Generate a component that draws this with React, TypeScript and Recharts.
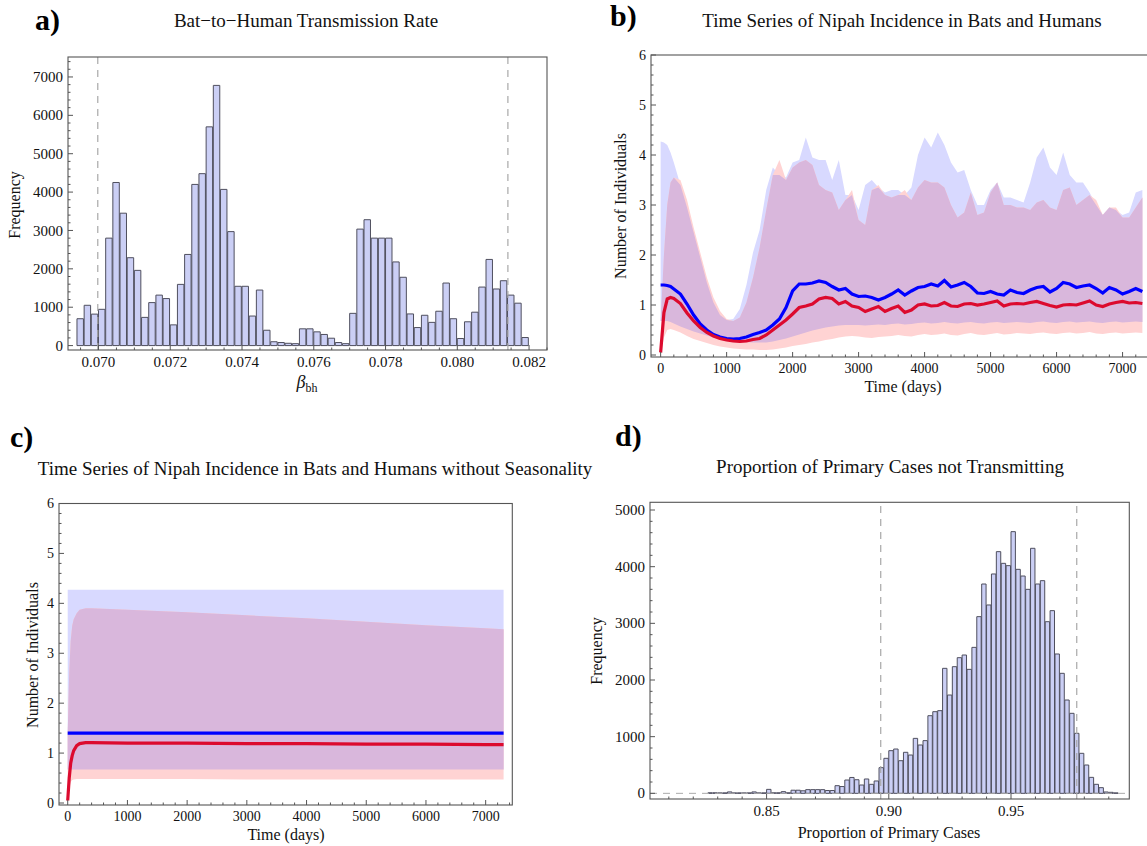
import React from "react";
import { ComposedChart, Bar, Area, Line, XAxis, YAxis, ReferenceLine } from "recharts";

const W = 1160;
const H = 846;
const SERIF = '"Liberation Serif", "Times New Roman", serif';

// a) bat-to-human transmission rate, bins of 0.0002 starting at 0.0694
const betaBinStart = 0.0694;
const betaBinWidth = 0.0002;
const betaCounts = [
  700, 1050, 820, 945, 2800, 4250, 3450, 2290, 1960, 735,
  1120, 1315, 1225, 540, 1595, 2375, 4200, 4480, 5700, 6780,
  4070, 2970, 1545, 1545, 770, 1447, 400, 100, 80, 60,
  50, 437, 437, 358, 290, 192, 80, 50, 840, 3035,
  3280, 2800, 2800, 2800, 2180, 1780, 825, 470, 790, 605,
  895, 1630, 700, 185, 620, 870, 1525, 2245, 1475, 1690,
  1315, 1105, 210,
];
const betaInterval = [0.06998, 0.08141];

// d) proportion of primary cases not transmitting, bins of 0.002 starting at 0.826
const propBinStart = 0.826;
const propBinWidth = 0.002;
const propCounts = [
  10, 10, 8, 8, 25, 8, 8, 8, 8, 25,
  8, 8, 70, 10, 10, 30, 10, 55, 55, 45,
  65, 65, 65, 65, 50, 50, 135, 120, 235, 280,
  240, 147, 253, 159, 218, 453, 618, 753, 782, 576,
  724, 676, 970, 853, 930, 1370, 1441, 1459, 2206, 1735,
  2235, 2394, 2441, 2188, 2576, 3118, 3694, 3324, 3871, 4265,
  4059, 4018, 4618, 3953, 3835, 3600, 4324, 3694, 3753, 3029,
  3224, 2459, 2118, 1647, 1412, 1059, 706, 500, 282, 159,
  100, 24, 18, 8,
];
const propInterval = [0.8967, 0.9769];

// b) seasonal time series (days)
const timeB = [
  0, 50, 100, 150, 200,
  300, 400, 500, 600, 700, 800, 900, 1000, 1100, 1200,
  1300, 1400, 1500, 1600, 1700, 1800, 1900, 2000, 2100, 2200,
  2300, 2400, 2500, 2600, 2700, 2800, 2900, 3000, 3100, 3200,
  3300, 3400, 3500, 3600, 3700, 3800, 3900, 4000, 4100, 4200,
  4300, 4400, 4500, 4600, 4700, 4800, 4900, 5000, 5100, 5200,
  5300, 5400, 5500, 5600, 5700, 5800, 5900, 6000, 6100, 6200,
  6300, 6400, 6500, 6600, 6700, 6800, 6900, 7000, 7100, 7200,
  7300,
];
const batsHiB = [
  4.27, 4.25, 4.2, 4.05, 3.85,
  3.4, 2.95, 2.45, 1.95, 1.45, 1.05, 0.8, 0.7, 0.72, 0.92,
  1.4, 2.05, 2.5, 3.3, 3.75, 3.6, 3.55, 3.85, 3.9, 4.35,
  3.95, 3.9, 3.9, 3.5, 3.9, 3.2, 3.2, 2.9, 3.4, 3.5,
  3.35, 3.25, 3.3, 3.3, 3.2, 3.35, 4.0, 4.35, 4.15, 4.45,
  4.2, 3.85, 3.65, 3.7, 3.3, 3.0, 3.0, 3.3, 3.45, 3.15,
  3.15, 3.1, 3.05, 3.45, 3.95, 4.15, 3.75, 3.6, 4.05, 3.6,
  3.45, 3.45, 3.25, 3.0, 2.8, 2.95, 2.9, 2.8, 2.85, 3.25,
  3.3,
];
const batsLoB = [
  0.68, 0.68, 0.68, 0.66, 0.63,
  0.57, 0.52, 0.47, 0.43, 0.39, 0.35, 0.32, 0.3, 0.28, 0.27,
  0.26, 0.25, 0.25, 0.25, 0.27, 0.3, 0.33, 0.37, 0.41, 0.45,
  0.49, 0.52, 0.55, 0.57, 0.59, 0.6, 0.6, 0.6, 0.59, 0.6,
  0.61, 0.6, 0.62, 0.63, 0.61, 0.62, 0.64, 0.65, 0.63, 0.64,
  0.66, 0.64, 0.63, 0.65, 0.66, 0.64, 0.63, 0.65, 0.66, 0.64,
  0.65, 0.66, 0.65, 0.64, 0.66, 0.67, 0.65, 0.64, 0.66, 0.67,
  0.65, 0.66, 0.67, 0.65, 0.64, 0.66, 0.67, 0.65, 0.66, 0.67,
  0.66,
];
const humansHiB = [
  0.1, 2.0, 3.0, 3.45, 3.55,
  3.5, 3.1, 2.55, 2.05, 1.55, 1.15, 0.88, 0.72, 0.68, 0.75,
  1.05, 1.55, 2.15, 2.9, 3.6, 3.9, 3.5, 3.75, 3.85, 3.9,
  3.8, 3.4, 3.3, 3.25, 2.9, 3.1, 3.3, 2.7, 2.6, 3.3,
  3.4, 3.2, 3.15, 3.2, 3.3, 3.1, 3.35, 3.5, 3.45, 3.45,
  3.35, 3.0, 2.75, 2.85, 3.25, 2.8, 2.85, 3.25, 3.45, 3.0,
  3.0, 2.95, 2.95, 2.9, 3.05, 3.1, 2.95, 2.9, 3.3, 3.35,
  3.0, 3.1, 3.2, 3.1, 2.8, 2.95, 2.95, 2.75, 2.75, 2.95,
  3.15,
];
const humansLoB = [
  0.0, 0.35, 0.5, 0.52, 0.5,
  0.45, 0.38, 0.32, 0.28, 0.24, 0.2, 0.17, 0.15, 0.13, 0.12,
  0.11, 0.11, 0.1, 0.1, 0.11, 0.13, 0.15, 0.18, 0.2, 0.22,
  0.25, 0.27, 0.3, 0.32, 0.35, 0.37, 0.38, 0.37, 0.35, 0.34,
  0.36, 0.37, 0.38, 0.4, 0.38, 0.37, 0.4, 0.42, 0.4, 0.41,
  0.43, 0.4, 0.39, 0.42, 0.44, 0.41, 0.4, 0.42, 0.44, 0.41,
  0.42, 0.44, 0.43, 0.42, 0.44, 0.45, 0.43, 0.42, 0.44, 0.45,
  0.43, 0.44, 0.46, 0.43, 0.42, 0.44, 0.45, 0.43, 0.44, 0.45,
  0.44,
];
const batsMeanB = [
  1.4, 1.4, 1.39, 1.37, 1.32,
  1.22, 1.02, 0.8, 0.62, 0.5, 0.41, 0.36, 0.33, 0.32, 0.33,
  0.36, 0.41, 0.45, 0.5, 0.6, 0.72, 0.95, 1.28, 1.42, 1.42,
  1.44, 1.48, 1.45, 1.37, 1.3, 1.33, 1.22, 1.17, 1.18, 1.15,
  1.1, 1.15, 1.22, 1.3, 1.2, 1.28, 1.35, 1.37, 1.42, 1.38,
  1.49, 1.36, 1.4, 1.45, 1.37, 1.24, 1.23, 1.27, 1.22, 1.2,
  1.3, 1.25, 1.23, 1.3, 1.35, 1.37, 1.26, 1.33, 1.45, 1.42,
  1.35, 1.38, 1.4, 1.33, 1.24, 1.35, 1.3, 1.22, 1.27, 1.33,
  1.27,
];
const humansMeanB = [
  0.05, 0.85, 1.12, 1.15, 1.13,
  1.03, 0.84, 0.68, 0.55, 0.45, 0.38, 0.33, 0.3, 0.28, 0.27,
  0.28, 0.31, 0.33, 0.4, 0.5, 0.6, 0.7, 0.82, 0.95, 0.98,
  1.02, 1.12, 1.15, 1.13, 1.02, 1.07, 0.98, 0.95, 0.87, 0.92,
  0.97, 0.87, 0.93, 0.98, 0.85, 0.9, 1.0, 1.02, 0.98, 0.99,
  1.05, 0.98, 0.97, 1.02, 1.03, 1.0, 1.02, 1.05, 1.08, 0.98,
  1.02, 1.03, 1.02, 1.05, 1.07, 1.03, 0.99, 0.96, 1.0, 1.01,
  1.0, 1.04, 1.08, 1.0, 0.97, 1.02, 1.05, 1.07, 1.04, 1.05,
  1.03,
];

// c) time series without seasonality
const timeC = [0, 25, 50, 75, 100, 150, 200, 300, 400, 1000, 2000, 3000, 4000, 5000, 6000, 7000, 7300];
const batsHiC = [4.27, 4.27, 4.27, 4.27, 4.27, 4.27, 4.27, 4.27, 4.27, 4.27, 4.27, 4.27, 4.27, 4.27, 4.27, 4.27, 4.27];
const batsLoC = [0.67, 0.67, 0.67, 0.67, 0.67, 0.67, 0.67, 0.67, 0.67, 0.67, 0.67, 0.67, 0.67, 0.67, 0.67, 0.67, 0.67];
const humansHiC = [1.4, 2.6, 3.25, 3.55, 3.68, 3.8, 3.87, 3.9, 3.9, 3.87, 3.82, 3.76, 3.7, 3.63, 3.56, 3.5, 3.48];
const humansLoC = [0.0, 0.3, 0.42, 0.46, 0.47, 0.48, 0.48, 0.48, 0.48, 0.48, 0.48, 0.47, 0.47, 0.47, 0.47, 0.47, 0.47];
const batsMeanC = [1.4, 1.4, 1.4, 1.4, 1.4, 1.4, 1.4, 1.4, 1.4, 1.4, 1.4, 1.4, 1.4, 1.4, 1.4, 1.4, 1.4];
const humansMeanC = [0.05, 0.5, 0.8, 0.95, 1.05, 1.15, 1.19, 1.21, 1.21, 1.2, 1.2, 1.19, 1.19, 1.18, 1.18, 1.17, 1.17];

const BAT_BAND = "#d8d9ff";
const HUMAN_BAND = "#ffd3d3";
const BOTH_BAND = "#d9b7dc";
const BAT_LINE = "#0000ff";
const HUMAN_LINE = "#dc0a2e";
const BAR_FILL = "#cbcff5";
const BAR_EDGE = "#4f4f5e";
const FRAME = "#555";

type Box = { l: number; t: number; r: number; b: number };
const boxA: Box = { l: 68, t: 57, r: 547, b: 350 };
const boxB: Box = { l: 651, t: 55, r: 1152, b: 357 };
const boxC: Box = { l: 59, t: 503.5, r: 512.3, b: 805 };
const boxD: Box = { l: 650, t: 502.3, r: 1129.3, b: 799 };

const YW = 50;
const XH = 30;
const marginOf = (b: Box) => ({ top: b.t, left: b.l - YW, right: W - b.r, bottom: H - b.b - XH });

function range(a: number, b: number, s: number) {
  const out: number[] = [];
  const n = Math.round((b - a) / s);
  for (let i = 0; i <= n; i++) out.push(+(a + i * s).toFixed(6));
  return out;
}
const isIn = (list: number[], v: number) => list.some((m) => Math.abs(m - v) < 1e-7);

function yTick(edge: number, majors: number[], fs: number) {
  return (p: any) => {
    const v = p.payload.value;
    const major = isIn(majors, v);
    return (
      <g>
        <line x1={edge} x2={edge + (major ? 5 : 2.5)} y1={p.y} y2={p.y} stroke={FRAME} />
        {major ? (
          <text x={edge - 5} y={p.y} dy="0.34em" textAnchor="end" fontFamily={SERIF} fontSize={fs} fill="#111">
            {Math.round(v)}
          </text>
        ) : null}
      </g>
    );
  };
}

function xTick(edge: number, majors: number[], fs: number, fmt: (v: number) => string) {
  return (p: any) => {
    const v = p.payload.value;
    const major = isIn(majors, v);
    return (
      <g>
        <line x1={p.x} x2={p.x} y1={edge} y2={edge - (major ? 5 : 2.5)} stroke={FRAME} />
        {major ? (
          <text x={p.x} y={edge + fs + 2} textAnchor="middle" fontFamily={SERIF} fontSize={fs} fill="#111">
            {fmt(v)}
          </text>
        ) : null}
      </g>
    );
  };
}

const histA = betaCounts.map((n, i) => ({ x: betaBinStart + (i + 0.5) * betaBinWidth, n }));
const histD = propCounts.map((n, i) => ({ x: propBinStart + (i + 0.5) * propBinWidth, n }));

const bandRow = (lo1: number, hi1: number, lo2: number, hi2: number) => {
  const lo = Math.max(lo1, lo2);
  const hi = Math.max(lo, Math.min(hi1, hi2));
  return [lo, hi];
};
const seriesB = timeB.map((t, i) => ({
  t,
  bats: [batsLoB[i], batsHiB[i]],
  humans: [humansLoB[i], humansHiB[i]],
  both: bandRow(batsLoB[i], batsHiB[i], humansLoB[i], humansHiB[i]),
  batsMean: batsMeanB[i],
  humansMean: humansMeanB[i],
}));
const seriesC = timeC.map((t, i) => ({
  t,
  bats: [batsLoC[i], batsHiC[i]],
  humans: [humansLoC[i], humansHiC[i]],
  both: bandRow(batsLoC[i], batsHiC[i], humansLoC[i], humansHiC[i]),
  batsMean: batsMeanC[i],
  humansMean: humansMeanC[i],
}));

function Histogram(props: {
  box: Box;
  data: { x: number; n: number }[];
  binWidth: number;
  xDomain: [number, number];
  yDomain: [number, number];
  xMinor: number[];
  xMajor: number[];
  yMinor: number[];
  yMajor: number[];
  fmt: (v: number) => string;
  interval: number[];
  fs: number;
  zeroLine?: boolean;
}) {
  const { box } = props;
  const barSize = (props.binWidth * (box.r - box.l)) / (props.xDomain[1] - props.xDomain[0]);
  return (
    <div style={{ position: "absolute", left: 0, top: 0 }}>
      <ComposedChart width={W} height={H} data={props.data} margin={marginOf(box)} barGap={0} barCategoryGap={0}>
        <XAxis
          type="number"
          dataKey="x"
          domain={props.xDomain}
          ticks={props.xMinor}
          interval={0}
          allowDataOverflow
          height={XH}
          axisLine={false}
          tickLine={false}
          tick={xTick(box.b, props.xMajor, props.fs, props.fmt)}
        />
        <YAxis
          type="number"
          domain={props.yDomain}
          ticks={props.yMinor}
          interval={0}
          allowDataOverflow
          width={YW}
          axisLine={false}
          tickLine={false}
          tick={yTick(box.l, props.yMajor, props.fs)}
        />
        {props.zeroLine ? <ReferenceLine y={0} stroke="#aaa" strokeDasharray="7 6" /> : null}
        {props.interval.map((v) => (
          <ReferenceLine key={v} x={v} stroke="#a8a8a8" strokeWidth={1.2} strokeDasharray="7 6" />
        ))}
        <Bar dataKey="n" fill={BAR_FILL} stroke={BAR_EDGE} strokeWidth={1} barSize={barSize} isAnimationActive={false} />
      </ComposedChart>
    </div>
  );
}

function TimeSeries(props: { box: Box; data: any[]; fs: number }) {
  const { box } = props;
  return (
    <div style={{ position: "absolute", left: 0, top: 0 }}>
      <ComposedChart width={W} height={H} data={props.data} margin={marginOf(box)}>
        <XAxis
          type="number"
          dataKey="t"
          domain={[-146, 7446]}
          ticks={range(0, 7400, 200)}
          interval={0}
          allowDataOverflow
          height={XH}
          axisLine={false}
          tickLine={false}
          tick={xTick(box.b, range(0, 7000, 1000), props.fs, (v) => String(Math.round(v)))}
        />
        <YAxis
          type="number"
          domain={[-0.04, 6]}
          ticks={range(0, 6, 0.2)}
          interval={0}
          allowDataOverflow
          width={YW}
          axisLine={false}
          tickLine={false}
          tick={yTick(box.l, range(0, 6, 1), props.fs)}
        />
        <Area type="linear" dataKey="bats" fill={BAT_BAND} fillOpacity={1} stroke="none" isAnimationActive={false} activeDot={false} />
        <Area type="linear" dataKey="humans" fill={HUMAN_BAND} fillOpacity={1} stroke="none" isAnimationActive={false} activeDot={false} />
        <Area type="linear" dataKey="both" fill={BOTH_BAND} fillOpacity={1} stroke="none" isAnimationActive={false} activeDot={false} />
        <Line type="linear" dataKey="batsMean" stroke={BAT_LINE} strokeWidth={3.2} dot={false} isAnimationActive={false} />
        <Line type="linear" dataKey="humansMean" stroke={HUMAN_LINE} strokeWidth={3.2} dot={false} isAnimationActive={false} />
      </ComposedChart>
    </div>
  );
}

const frame = (b: Box) => (
  <rect x={b.l} y={b.t} width={b.r - b.l} height={b.b - b.t} fill="none" stroke={FRAME} strokeWidth={1.1} />
);

export default function App() {
  const title = { fontFamily: SERIF, fontSize: 19, fill: "#111", textAnchor: "middle" as const };
  const axisLabel = { fontFamily: SERIF, fontSize: 16, fill: "#111", textAnchor: "middle" as const };
  const letter = { fontFamily: SERIF, fontSize: 30, fontWeight: 700, fill: "#000" };
  return (
    <div style={{ position: "absolute", left: 0, top: 0, width: 1147, height: 846, overflow: "hidden", background: "#fff" }}>
      <Histogram
        box={boxA}
        data={histA}
        binWidth={betaBinWidth}
        xDomain={[0.06915, 0.0825]}
        yDomain={[-115, 7520]}
        xMinor={range(0.0695, 0.0825, 0.0005)}
        xMajor={range(0.07, 0.082, 0.002)}
        yMinor={range(0, 7400, 200)}
        yMajor={range(0, 7000, 1000)}
        fmt={(v) => v.toFixed(3)}
        interval={betaInterval}
        fs={15}
      />
      <TimeSeries box={boxB} data={seriesB} fs={14} />
      <TimeSeries box={boxC} data={seriesC} fs={14} />
      <Histogram
        box={boxD}
        data={histD}
        binWidth={propBinWidth}
        xDomain={[0.8023, 0.9984]}
        yDomain={[-100, 5136]}
        xMinor={range(0.81, 0.99, 0.01)}
        xMajor={[0.85, 0.9, 0.95]}
        yMinor={range(0, 5000, 200)}
        yMajor={range(0, 5000, 1000)}
        fmt={(v) => v.toFixed(2)}
        interval={propInterval}
        fs={15}
        zeroLine
      />
      <svg width={1147} height={846} style={{ position: "absolute", left: 0, top: 0 }}>
        {frame(boxA)}
        {frame(boxB)}
        {frame(boxC)}
        {frame(boxD)}

        <text x={35} y={30} {...letter}>a)</text>
        <text x={610} y={26} {...letter}>b)</text>
        <text x={10} y={447} {...letter}>c)</text>
        <text x={615} y={446} {...letter}>d)</text>

        <text x={306} y={27} {...title}>Bat−to−Human Transmission Rate</text>
        <text x={902} y={27} {...title}>Time Series of Nipah Incidence in Bats and Humans</text>
        <text x={315} y={475} {...title}>Time Series of Nipah Incidence in Bats and Humans without Seasonality</text>
        <text x={890} y={473} {...title}>Proportion of Primary Cases not Transmitting</text>

        <text x={307} y={388} {...axisLabel} fontSize={18}>
          <tspan fontStyle="italic">β</tspan>
          <tspan fontSize={12} dy={4}>bh</tspan>
        </text>
        <text x={903} y={392} {...axisLabel}>Time (days)</text>
        <text x={286} y={840} {...axisLabel}>Time (days)</text>
        <text x={889} y={838} {...axisLabel}>Proportion of Primary Cases</text>

        <text x={20} y={205} {...axisLabel} transform="rotate(-90 20 205)">Frequency</text>
        <text x={626} y={206} {...axisLabel} transform="rotate(-90 626 206)">Number of Individuals</text>
        <text x={38} y={655} {...axisLabel} transform="rotate(-90 38 655)">Number of Individuals</text>
        <text x={602} y={651} {...axisLabel} transform="rotate(-90 602 651)">Frequency</text>
      </svg>
    </div>
  );
}
